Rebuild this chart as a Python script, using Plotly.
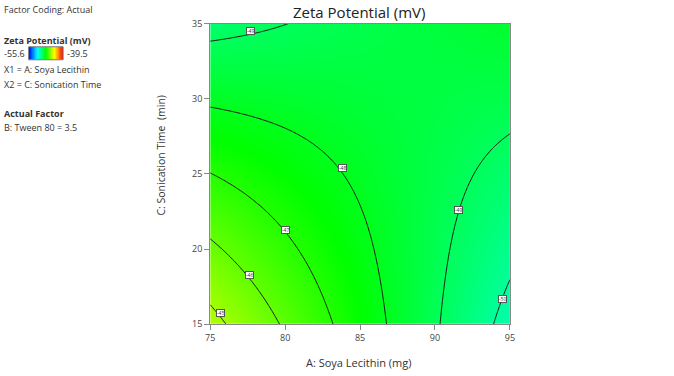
import numpy as np
import plotly.graph_objects as go

# ---- data ----
# quadratic response-surface coefficients (coded units): b0, A, C, AC
model_terms = ["b0", "A", "C", "AC"]
model_coefs = [-48.13, -1.145, -0.625, 1.655]
x_range = [75, 95]          # A: Soya Lecithin (mg)
y_range = [15, 35]          # C: Sonication Time (min)
x_ticks = [75, 80, 85, 90, 95]
y_ticks = [15, 20, 25, 30, 35]
contour_levels = [-50, -49, -48, -47, -46, -45]
z_min, z_max = -55.6, -39.5
# contour label positions (x, y, level)
label_x = [75.7, 77.6, 80.05, 83.86, 91.6, 94.5, 77.7]
label_y = [15.75, 18.3, 21.3, 25.4, 22.6, 16.7, 34.5]
label_lv = [-45, -46, -47, -48, -49, -50, -49]

# ---- surface on a grid ----
xs = np.linspace(x_range[0], x_range[1], 121)
ys = np.linspace(y_range[0], y_range[1], 121)
X, Y = np.meshgrid(xs, ys)
A = (X - 85) / 10.0
C = (Y - 25) / 10.0
b0, ba, bc, bac = model_coefs
Z = b0 + ba * A + bc * C + bac * A * C

W, H = 674, 376
def px(v): return v / W
def py(v): return 1 - max(0.0, (v - 7.3) / 0.964) / H

cscale = [[0, "rgb(0,0,255)"], [0.25, "rgb(0,255,255)"], [0.5, "rgb(0,255,0)"],
          [0.75, "rgb(255,255,0)"], [1, "rgb(255,0,0)"]]

fig = go.Figure()
fig.add_trace(go.Contour(
    x=xs, y=ys, z=Z, zmin=z_min, zmax=z_max, colorscale=cscale,
    showscale=False, contours=dict(coloring="heatmap", start=min(contour_levels),
                                   end=max(contour_levels), size=1, showlines=True),
    line=dict(color="#1a1a1a", width=1), hoverinfo="skip",
    xaxis="x", yaxis="y"))

# small colour bar in the side legend
bar_z = np.linspace(z_min, z_max, 60)
fig.add_trace(go.Heatmap(z=[bar_z], x=bar_z, colorscale=cscale, zmin=z_min, zmax=z_max,
                         showscale=False, hoverinfo="skip", xaxis="x2", yaxis="y2"))

font = "Open Sans, Noto Sans, sans-serif"
tick_font = dict(family=font, size=9, color="#444")

BX0, BX1 = 24, 59
fig.update_layout(
    width=W, height=H, margin=dict(l=0, r=0, t=0, b=0), autosize=False,
    paper_bgcolor="white", plot_bgcolor="white", showlegend=False,
    font=dict(family=font),
    xaxis=dict(domain=[px(208.3), px(512.5)], range=x_range, tickvals=x_ticks,
               ticks="outside", ticklen=5, tickcolor="#888", tickfont=tick_font,
               showgrid=False, zeroline=False, showline=True, linecolor="#888",
               mirror=True, linewidth=1),
    yaxis=dict(domain=[py(324), py(24)], range=y_range, tickvals=y_ticks,
               ticks="outside", ticklen=5, tickcolor="#888", tickfont=tick_font,
               showgrid=False, zeroline=False, showline=True, linecolor="#888",
               mirror=True, linewidth=1),
    xaxis2=dict(domain=[px(BX0), px(BX1)], anchor="y2", visible=False, range=[z_min, z_max]),
    yaxis2=dict(domain=[py(60), py(47)], anchor="x2", visible=False),
)

ann = []
def txt(x, y, s, size=10, bold=False, xanchor="left", color="#333", angle=0):
    ann.append(dict(xref="paper", yref="paper", x=px(x), y=py(y), text=("<b>%s</b>" % s) if bold else s,
                    showarrow=False, xanchor=xanchor, yanchor="middle", textangle=angle,
                    font=dict(family=font, size=size, color=color)))

txt(359, 12, "Zeta Potential (mV)", size=15, xanchor="center", color="#222")
txt(359, 362, "A: Soya Lecithin (mg)", size=11, xanchor="center")
txt(158, 155, "C: Sonication Time  (min)", size=10.5, xanchor="center", angle=-90)
txt(-3, 10, "Factor Coding: Actual", size=9)
txt(-3, 41, "Zeta Potential (mV)", size=9, bold=True)
txt(-3, 54, "-55.6", size=9)
txt(61, 54, "-39.5", size=9)
txt(-3, 70, "X1 = A: Soya Lecithin", size=9)
txt(-3, 85, "X2 = C: Sonication Time", size=9)
txt(-3, 114, "Actual Factor", size=9, bold=True)
txt(-3, 128, "B: Tween 80 = 3.5", size=9)

for lx, ly, lv in zip(label_x, label_y, label_lv):
    ann.append(dict(x=lx, y=ly, xref="x", yref="y", text=str(lv), showarrow=False,
                    font=dict(family=font, size=5, color="#333"), bgcolor="white",
                    bordercolor="#555", borderwidth=1, borderpad=0))

fig.update_layout(annotations=ann)
fig.add_shape(type="rect", xref="paper", yref="paper", x0=px(BX0), x1=px(BX1), y0=py(60), y1=py(47),
              line=dict(color="#777", width=1))

css_fix = ("var s=document.createElement('style');"
           "s.innerHTML='html,body{margin:0;padding:0;overflow:hidden;width:674px;height:376px}';"
           "document.head.appendChild(s);")
fig.write_html("out.html", config={"responsive": False, "displayModeBar": False},
               post_script=css_fix)
